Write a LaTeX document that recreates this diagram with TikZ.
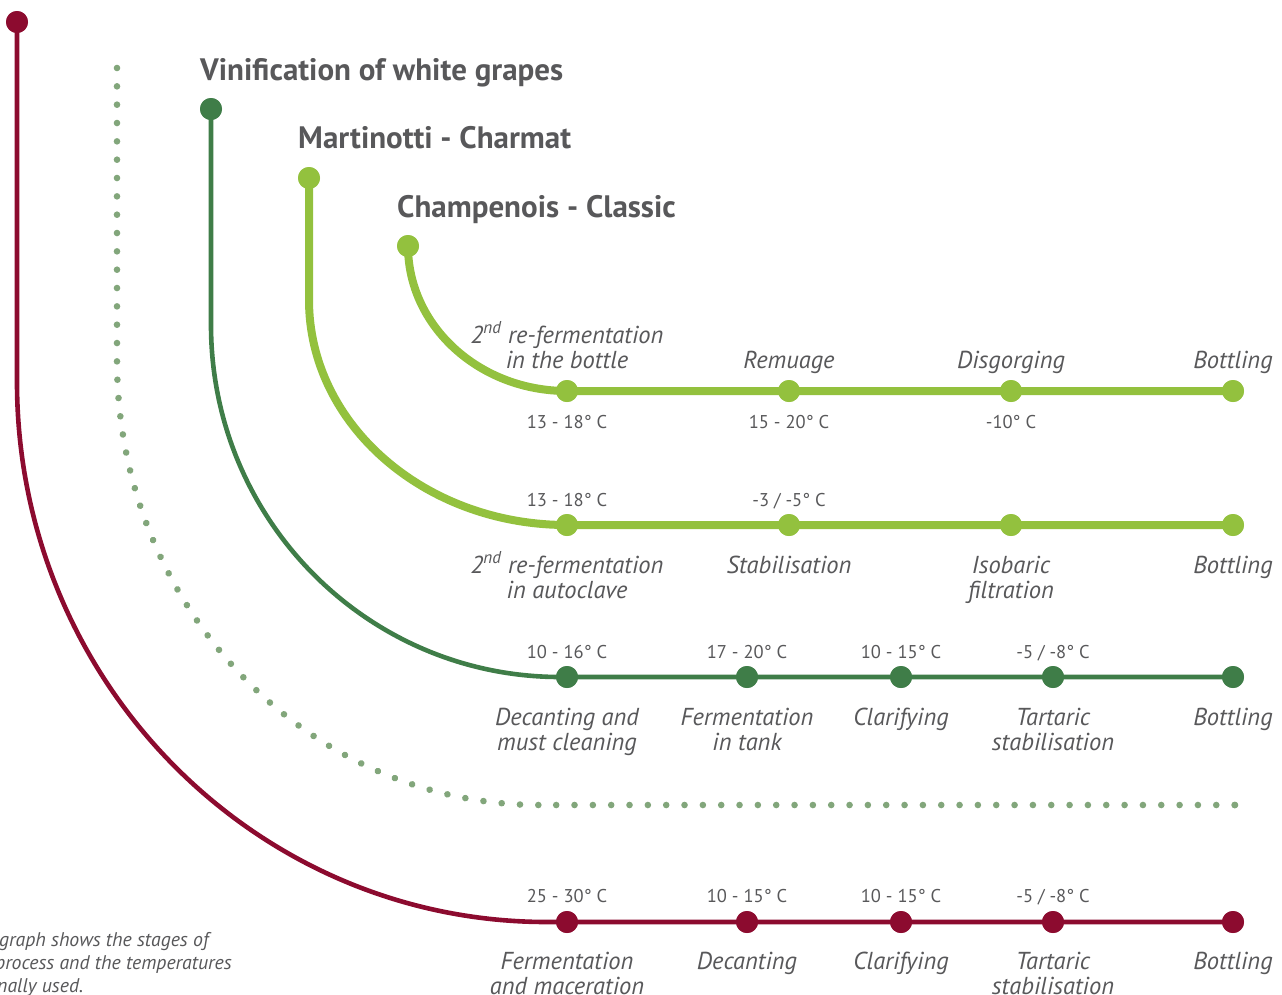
\documentclass[tikz,border=0pt]{standalone}
\usepackage{fontspec}
\setmainfont{PT Sans}
\usetikzlibrary{decorations.markings}
\definecolor{cRed}{HTML}{8C0B2F}
\definecolor{cDark}{HTML}{3F7D48}
\definecolor{cLight}{HTML}{93C13E}
\definecolor{cDot}{HTML}{82A67B}
\definecolor{cText}{HTML}{58585A}
\tikzset{
  pt/.style={circle,fill=#1,inner sep=0pt,minimum size=22pt},
  lineR/.style={draw=cRed,line width=4.6pt},
  lineD/.style={draw=cDark,line width=4.6pt},
  lineL/.style={draw=cLight,line width=8pt},
  dotline/.style={postaction={decorate},decoration={markings,
     mark=between positions 0 and 1 step 0.010989 with {\fill[cDot] (0,0) circle (3.3pt);}}},
  ttl/.style={font=\fontsize{31}{34}\selectfont\bfseries,text=cText,anchor=base west,inner sep=0pt},
  lbl/.style={font=\fontsize{24.5}{25}\selectfont\itshape,text=cText,anchor=base,align=center,inner sep=0pt},
  tmp/.style={font=\fontsize{18.5}{22}\selectfont,text=cText,anchor=base,inner sep=0pt},
  note/.style={font=\fontsize{19.8}{23}\selectfont\itshape,text=cText,anchor=base west,inner sep=0pt}
}
\begin{document}
\begin{tikzpicture}[x=1pt,y=-1pt]
\useasboundingbox (0,0) rectangle (1282,994);

% ---------- red line: vinification of red grapes
\node[pt=cRed] (r0) at (17,22) {};
\coordinate (rb) at (17,382);
\coordinate (re) at (547,922);
\node[pt=cRed] (r1) at (567,922) {};
\node[pt=cRed] (r2) at (747,922) {};
\node[pt=cRed] (r3) at (901,922) {};
\node[pt=cRed] (r4) at (1053,922) {};
\node[pt=cRed] (r5) at (1233,922) {};
\draw[lineR] (r0.center) -- (rb) .. controls (17,680.2) and (254.3,922) .. (re) -- (r1.center) -- (r5.center);

% ---------- dotted line
\coordinate (o0) at (117,68);
\coordinate (ob) at (117,360);
\coordinate (oc) at (540,805);
\coordinate (o1) at (1235,805);
\path[dotline] (o0) -- (ob) .. controls (117,605.8) and (306.4,805) .. (oc) -- (o1);
\fill[cDot] (o1) circle (3.3pt);

% ---------- dark green: vinification of white grapes
\node[pt=cDark] (d0) at (211,109) {};
\coordinate (db) at (211,325);
\coordinate (de) at (560,677);
\node[pt=cDark] (d1) at (567,677) {};
\node[pt=cDark] (d2) at (747,677) {};
\node[pt=cDark] (d3) at (901,677) {};
\node[pt=cDark] (d4) at (1053,677) {};
\node[pt=cDark] (d5) at (1233,677) {};
\draw[lineD] (d0.center) -- (db) .. controls (211,519.4) and (367.2,677) .. (de) -- (d1.center) -- (d5.center);

% ---------- Martinotti
\node[pt=cLight] (m0) at (309,178) {};
\coordinate (mb) at (309,300);
\node[pt=cLight] (m1) at (567,525) {};
\node[pt=cLight] (m2) at (789,525) {};
\node[pt=cLight] (m3) at (1011,525) {};
\node[pt=cLight] (m4) at (1233,525) {};
\draw[lineL] (m0.center) -- (mb) .. controls (309,424.3) and (424.5,525) .. (m1.center) -- (m4.center);

% ---------- Champenois
\node[pt=cLight] (c0) at (408,246) {};
\node[pt=cLight] (c1) at (567,391) {};
\node[pt=cLight] (c2) at (789,391) {};
\node[pt=cLight] (c3) at (1011,391) {};
\node[pt=cLight] (c4) at (1233,391) {};
\draw[lineL] (c0.center) .. controls (408,326) and (479.2,391) .. (c1.center) -- (c4.center);
% redraw dots on top
\foreach \n/\c in {r0/cRed,r1/cRed,r2/cRed,r3/cRed,r4/cRed,r5/cRed,d0/cDark,d1/cDark,d2/cDark,d3/cDark,d4/cDark,d5/cDark,m0/cLight,m1/cLight,m2/cLight,m3/cLight,m4/cLight,c0/cLight,c1/cLight,c2/cLight,c3/cLight,c4/cLight}
  \fill[\c] (\n) circle (11pt);

% ---------- titles
\node[ttl] (t1) at (200,80) {Vinification of white grapes};
\node[ttl] (t2) at (298,148) {Martinotti - Charmat};
\node[ttl] (t3) at (397,217) {Champenois - Classic};

% ---------- Champenois labels
\node[lbl] (cl1) at (567,368) {2\textsuperscript{nd} re-fermentation\\in the bottle};
\node[lbl] (cl2) at (789,368) {Remuage};
\node[lbl] (cl3) at (1011,368) {Disgorging};
\node[lbl] (cl4) at (1233,368) {Bottling};
\node[tmp] (ct1) at (567,428) {13 - 18° C};
\node[tmp] (ct2) at (789,428) {15 - 20° C};
\node[tmp] (ct3) at (1011,428) {-10° C};

% ---------- Martinotti labels
\node[tmp] (mt1) at (567,506) {13 - 18° C};
\node[tmp] (mt2) at (789,506) {-3 / -5° C};
\node[lbl] (ml1) at (567,598) {2\textsuperscript{nd} re-fermentation\\in autoclave};
\node[lbl] (ml2) at (789,573) {Stabilisation};
\node[lbl] (ml3) at (1011,598) {Isobaric\\filtration};
\node[lbl] (ml4) at (1233,573) {Bottling};

% ---------- white grapes labels
\node[tmp] (dt1) at (567,658) {10 - 16° C};
\node[tmp] (dt2) at (747,658) {17 - 20° C};
\node[tmp] (dt3) at (901,658) {10 - 15° C};
\node[tmp] (dt4) at (1053,658) {-5 / -8° C};
\node[lbl] (dl1) at (567,750) {Decanting and\\must cleaning};
\node[lbl] (dl2) at (747,750) {Fermentation\\in tank};
\node[lbl] (dl3) at (901,725) {Clarifying};
\node[lbl] (dl4) at (1053,750) {Tartaric\\stabilisation};
\node[lbl] (dl5) at (1233,725) {Bottling};

% ---------- red grapes labels
\node[tmp] (rt1) at (567,902) {25 - 30° C};
\node[tmp] (rt2) at (747,902) {10 - 15° C};
\node[tmp] (rt3) at (901,902) {10 - 15° C};
\node[tmp] (rt4) at (1053,902) {-5 / -8° C};
\node[lbl] (rl1) at (567,994) {Fermentation\\and maceration};
\node[lbl] (rl2) at (747,969) {Decanting};
\node[lbl] (rl3) at (901,969) {Clarifying};
\node[lbl] (rl4) at (1053,994) {Tartaric\\stabilisation};
\node[lbl] (rl5) at (1233,969) {Bottling};

% ---------- note
\node[note] (n1) at (-1,946) {graph shows the stages of};
\node[note] (n2) at (-5,969) {process and the temperatures};
\node[note] (n3) at (-3,992) {nally used.};
\end{tikzpicture}
\end{document}
